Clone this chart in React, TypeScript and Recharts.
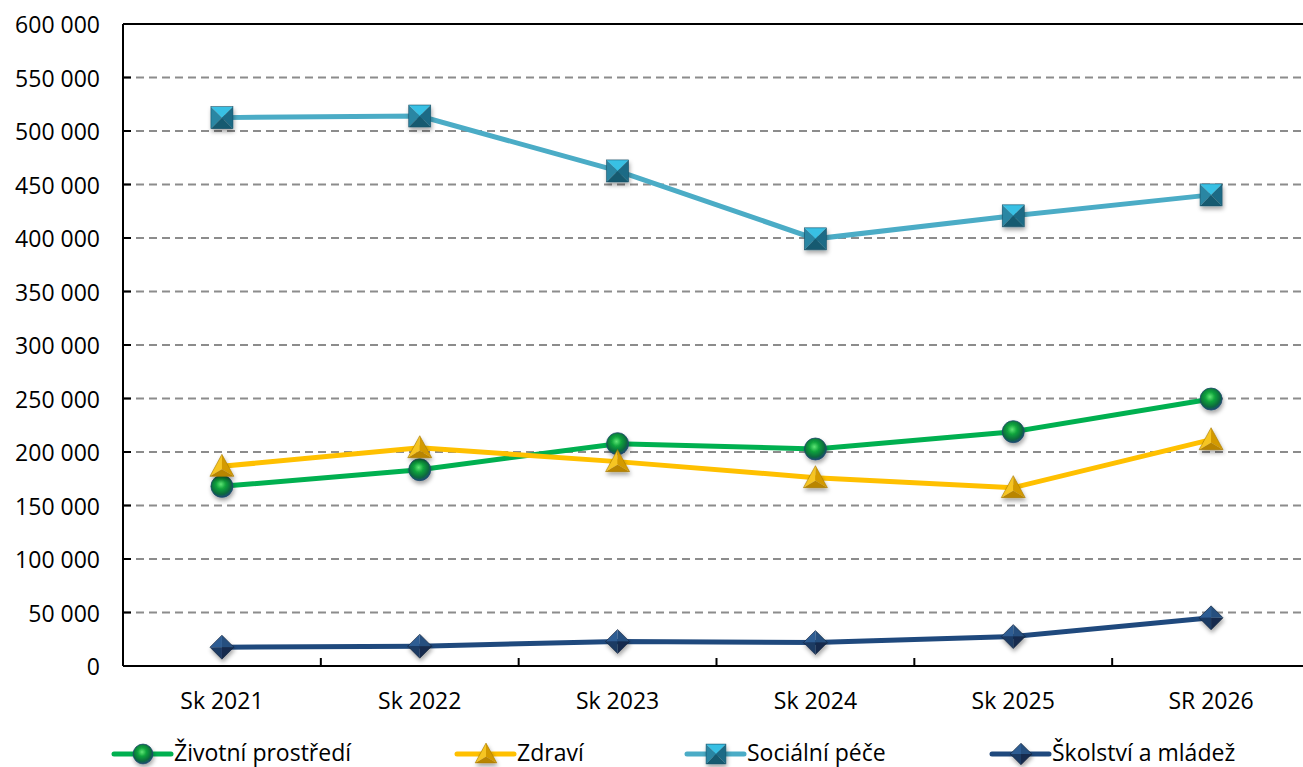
import React from "react";
import {
  LineChart,
  Line,
  XAxis,
  YAxis,
  CartesianGrid,
  ReferenceLine,
} from "recharts";

const categories = ["Sk 2021", "Sk 2022", "Sk 2023", "Sk 2024", "Sk 2025", "SR 2026"];
const zivotni = [167900, 183500, 207800, 202800, 219000, 249500];
const zdravi = [186600, 204000, 191000, 176000, 166700, 211500];
const socialni = [512500, 514000, 462700, 399200, 420700, 440300];
const skolstvi = [17600, 18500, 22900, 21900, 27500, 45000];
const yTicks = [0, 50000, 100000, 150000, 200000, 250000, 300000, 350000, 400000, 450000, 500000, 550000, 600000];

const series = [
  { key: "zivotni", name: "Životní prostředí", values: zivotni, color: "#00b050", marker: "circle" },
  { key: "zdravi", name: "Zdraví", values: zdravi, color: "#ffc000", marker: "triangle" },
  { key: "socialni", name: "Sociální péče", values: socialni, color: "#4bacc6", marker: "square" },
  { key: "skolstvi", name: "Školství a mládež", values: skolstvi, color: "#1f497d", marker: "diamond" },
];

const data = categories.map((c, i) => {
  const row: any = { name: c };
  series.forEach((s) => (row[s.key] = s.values[i]));
  return row;
});

const CHART_W = 1310;
const CHART_H = 767;
const Y_W = 123;
const X_H = 101;
const BAND = (CHART_W - Y_W) / categories.length;
const FONT = "'Open Sans', sans-serif";

const fmt = (v: number) => String(v).replace(/\B(?=(\d{3})+(?!\d))/g, " ");

function Marker({ cx, cy, kind, s = 1 }: { cx: number; cy: number; kind: string; s?: number }) {
  if (cx == null || cy == null) return null;
  if (kind === "circle") {
    return <circle cx={cx} cy={cy} r={11 * s} fill="url(#gBall)" stroke="#1d4a6a" strokeWidth={0.8} filter="url(#shadow)" />;
  }
  if (kind === "triangle") {
    const h = 11 * s;
    const w = 12 * s;
    const top = [cx, cy - h - 1];
    const bl = [cx - w, cy + h - 1];
    const br = [cx + w, cy + h - 1];
    const c = [cx, cy + 3 * s];
    const p = (a: number[][]) => a.map((q) => q.join(",")).join(" ");
    return (
      <g filter="url(#shadow)">
        <polygon points={p([top, bl, c])} fill="#f6c524" />
        <polygon points={p([top, br, c])} fill="#d39a00" />
        <polygon points={p([bl, br, c])} fill="#b98500" />
        <polygon points={p([top, bl, br])} fill="none" stroke="#a67800" strokeWidth={0.6} />
      </g>
    );
  }
  if (kind === "square") {
    const h = 11 * s;
    const tl = [cx - h, cy - h];
    const tr = [cx + h, cy - h];
    const bl = [cx - h, cy + h];
    const br = [cx + h, cy + h];
    const c = [cx, cy];
    const p = (a: number[][]) => a.map((q) => q.join(",")).join(" ");
    return (
      <g filter="url(#shadow)">
        <polygon points={p([tl, tr, c])} fill="#38c0e4" />
        <polygon points={p([tl, bl, c])} fill="#2a86a3" />
        <polygon points={p([tr, br, c])} fill="#1d6b85" />
        <polygon points={p([bl, br, c])} fill="#185a70" />
        <rect x={cx - h} y={cy - h} width={2 * h} height={2 * h} fill="none" stroke="#16526a" strokeWidth={0.6} />
      </g>
    );
  }
  const h = 12 * s;
  const t = [cx, cy - h];
  const l = [cx - h, cy];
  const r = [cx + h, cy];
  const b = [cx, cy + h];
  const c = [cx, cy];
  const p = (a: number[][]) => a.map((q) => q.join(",")).join(" ");
  return (
    <g filter="url(#shadow)">
      <polygon points={p([t, l, c])} fill="#2f5d93" />
      <polygon points={p([t, r, c])} fill="#26507f" />
      <polygon points={p([l, b, c])} fill="#1c3a64" />
      <polygon points={p([r, b, c])} fill="#142b4d" />
      <polygon points={p([t, r, b, l])} fill="none" stroke="#0f2038" strokeWidth={0.6} />
    </g>
  );
}

const YTick = (props: any) => {
  const { x, y, payload } = props;
  return (
    <g>
      {payload.value > 0 && payload.value < 600000 && (
        <line x1={x} x2={x + 8} y1={y} y2={y} stroke="#000" strokeWidth={2} />
      )}
      <text x={x - 23} y={y} textAnchor="end" dominantBaseline="central" fontFamily={FONT} fontSize={23} fill="#000">
        {fmt(payload.value)}
      </text>
    </g>
  );
};

const XTick = (props: any) => {
  const { x, y, payload } = props;
  return (
    <g>
      <line x1={x + BAND / 2} x2={x + BAND / 2} y1={y - 8} y2={y} stroke="#000" strokeWidth={2} />
      <text x={x} y={y + 34} textAnchor="middle" dominantBaseline="central" fontFamily={FONT} fontSize={23} fill="#000">
        {payload.value}
      </text>
    </g>
  );
};

const legendLeft = [114, 457, 687, 992];

export default function App() {
  return (
    <div style={{ position: "absolute", left: 0, top: 0, width: 1303, height: 767, overflow: "hidden", background: "#fff" }}>
      <LineChart width={CHART_W} height={CHART_H} data={data} margin={{ top: 24, right: 0, left: 0, bottom: 0 }}>
        <defs>
          <radialGradient id="gBall" cx="45%" cy="40%" r="60%">
            <stop offset="0%" stopColor="#5fe676" />
            <stop offset="35%" stopColor="#12a63e" />
            <stop offset="75%" stopColor="#0b6c3c" />
            <stop offset="100%" stopColor="#1c4b72" />
          </radialGradient>
          <filter id="shadow" x="-50%" y="-50%" width="200%" height="200%">
            <feDropShadow dx="1" dy="3" stdDeviation="2" floodColor="#000" floodOpacity="0.35" />
          </filter>
        </defs>
        <CartesianGrid vertical={false} stroke="#8c8c8c" strokeWidth={2} strokeDasharray="8 5" />
        <XAxis
          dataKey="name"
          height={X_H}
          padding={{ left: BAND / 2, right: BAND / 2 }}
          axisLine={{ stroke: "#000", strokeWidth: 2 }}
          tickLine={false}
          tickSize={0}
          tickMargin={0}
          tick={<XTick />}
          interval={0}
        />
        <YAxis
          width={Y_W}
          domain={[0, 600000]}
          ticks={yTicks}
          axisLine={{ stroke: "#000", strokeWidth: 2 }}
          tickLine={false}
          tickSize={0}
          tickMargin={0}
          tick={<YTick />}
          interval={0}
        />
        <ReferenceLine y={600000} stroke="#000" strokeWidth={2} />
        {series.map((s) => (
          <Line
            key={s.key}
            dataKey={s.key}
            name={s.name}
            type="linear"
            stroke={s.color}
            strokeWidth={5}
            isAnimationActive={false}
            activeDot={false}
            dot={(p: any) => <Marker key={`${s.key}-${p.index}`} cx={p.cx} cy={p.cy} kind={s.marker} />}
          />
        ))}
      </LineChart>
      {series.map((s, i) => (
        <div
          key={s.key}
          style={{ position: "absolute", left: legendLeft[i], top: 739, height: 27, display: "flex", alignItems: "center" }}
        >
          <svg width={58} height={27} style={{ overflow: "visible" }}>
            <line x1={0} x2={57} y1={15} y2={15} stroke={s.color} strokeWidth={5} strokeLinecap="round" />
            <Marker cx={29} cy={15} kind={s.marker} s={0.9} />
          </svg>
          <span style={{ fontFamily: FONT, fontSize: 23, color: "#000", marginLeft: 2, lineHeight: "27px", whiteSpace: "nowrap" }}>
            {s.name}
          </span>
        </div>
      ))}
    </div>
  );
}
